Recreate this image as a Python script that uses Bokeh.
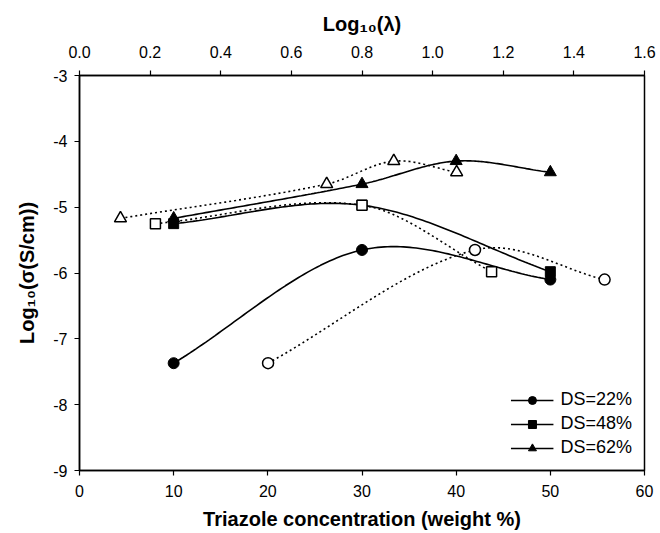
import numpy as np
from bokeh.plotting import figure
from bokeh.models import (Range1d, LinearAxis, FixedTicker, Legend, LegendItem,
                          NumeralTickFormatter, PrintfTickFormatter)
from bokeh.embed import file_html
from bokeh.resources import INLINE

# ---- data ----
series_names = ["DS=22%", "DS=48%", "DS=62%"]
# filled markers: triazole concentration (weight %) -> bottom axis
conc_22 = [10, 30, 50]
sig_22 = [-7.37, -5.65, -6.10]
conc_48 = [10, 30, 50]
sig_48 = [-5.25, -4.97, -5.98]
conc_62 = [10, 30, 40, 50]
sig_62 = [-5.17, -4.65, -4.30, -4.47]
# open markers: log10(lambda) -> top axis
loglam_22 = [0.534, 1.12, 1.487]
loglam_48 = [0.215, 0.80, 1.167]
loglam_62 = [0.116, 0.70, 0.89, 1.068]

x_ticks = [0, 10, 20, 30, 40, 50, 60]
top_ticks = [0.0, 0.2, 0.4, 0.6, 0.8, 1.0, 1.2, 1.4, 1.6]
y_ticks = [-9, -8, -7, -6, -5, -4, -3]

FONT = "Liberation Sans"


def smooth(x, y, n=60):
    """Cubic Hermite curve through the points (finite-difference tangents)."""
    x = np.asarray(x, float)
    y = np.asarray(y, float)
    k = len(x)
    s = np.diff(y) / np.diff(x)
    m = np.empty(k)
    m[0] = s[0]
    m[-1] = s[-1]
    for i in range(1, k - 1):
        m[i] = (y[i + 1] - y[i - 1]) / (x[i + 1] - x[i - 1])
    xs_all, ys_all = [], []
    for i in range(k - 1):
        h = x[i + 1] - x[i]
        t = np.linspace(0, 1, n)
        h00 = 2 * t ** 3 - 3 * t ** 2 + 1
        h10 = t ** 3 - 2 * t ** 2 + t
        h01 = -2 * t ** 3 + 3 * t ** 2
        h11 = t ** 3 - t ** 2
        xs_all.append(x[i] + t * h)
        ys_all.append(h00 * y[i] + h10 * h * m[i] + h01 * y[i + 1] + h11 * h * m[i + 1])
    return np.concatenate(xs_all), np.concatenate(ys_all)


p = figure(width=660, height=533, x_range=Range1d(0, 60), y_range=Range1d(-9, -3),
           output_backend="svg", toolbar_location=None,
           min_border_left=79, min_border_right=16, min_border_top=75, min_border_bottom=63)
p.extra_x_ranges = {"top": Range1d(0, 1.6)}

p.xgrid.visible = False
p.ygrid.visible = False
p.outline_line_color = "black"
p.outline_line_width = 1.5
p.background_fill_color = "white"
p.border_fill_color = "white"


def style_axis(ax, ticks, label, tick_standoff, label_standoff):
    ax.ticker = FixedTicker(ticks=ticks)
    ax.axis_label = label
    ax.axis_label_text_font = FONT
    ax.axis_label_text_font_style = "bold"
    ax.axis_label_text_font_size = "20px"
    ax.axis_label_text_color = "black"
    ax.axis_label_standoff = label_standoff
    ax.major_label_text_font = FONT
    ax.major_label_text_font_size = "16px"
    ax.major_label_text_color = "black"
    ax.major_label_standoff = tick_standoff
    ax.major_tick_in = 0
    ax.major_tick_out = 5
    ax.major_tick_line_width = 1.2
    ax.minor_tick_line_color = None
    ax.axis_line_width = 1.5
    ax.axis_line_color = "black"
    ax.major_tick_line_color = "black"


style_axis(p.xaxis[0], x_ticks, "Triazole concentration (weight %)", 9, 8)
p.xaxis[0].formatter = PrintfTickFormatter(format="%d")
style_axis(p.yaxis[0], y_ticks, "Log\u2081\u2080(\u03c3(S/cm))", 7, 12)
p.yaxis[0].formatter = PrintfTickFormatter(format="%d")

top_axis = LinearAxis(x_range_name="top")
style_axis(top_axis, top_ticks, "Log\u2081\u2080(\u03bb)", 13, 8)
top_axis.formatter = NumeralTickFormatter(format="0.0")
p.add_layout(top_axis, "above")

# ---- curves ----
solid = dict(line_color="black", line_width=1.6)
dotted = dict(line_color="black", line_width=1.6, line_dash="2 3")

filled = [(conc_22, sig_22), (conc_48, sig_48), (conc_62, sig_62)]
opened = [(loglam_22, sig_22), (loglam_48, sig_48), (loglam_62, sig_62)]
markers = ["circle", "square", "triangle"]
sizes = [11, 10, 12]

line_rs = []
for (xx, yy) in filled:
    sx, sy = smooth(xx, yy)
    line_rs.append(p.line(sx, sy, **solid))
for (xx, yy) in opened:
    sx, sy = smooth(xx, yy)
    p.line(sx, sy, x_range_name="top", **dotted)

mark_rs = []
for (xx, yy), m, s in zip(filled, markers, sizes):
    mark_rs.append(p.scatter(xx, yy, marker=m, size=s, fill_color="black",
                             line_color="black", line_width=1))
for (xx, yy), m, s in zip(opened, markers, sizes):
    p.scatter(xx, yy, marker=m, size=s, fill_color="white", line_color="black",
              line_width=1.5, x_range_name="top")

legend = Legend(items=[LegendItem(label=n, renderers=[l, r])
                       for n, l, r in zip(series_names, line_rs, mark_rs)],
                location="bottom_right")
legend.label_text_font = FONT
legend.label_text_font_size = "18px"
legend.label_text_color = "black"
legend.glyph_width = 43
legend.glyph_height = 20
legend.label_height = 20
legend.spacing = 3
legend.label_standoff = 7
legend.padding = 10
legend.margin = 12
legend.border_line_color = None
legend.background_fill_alpha = 0
p.add_layout(legend)

open("out.html", "w").write(file_html(p, INLINE))
